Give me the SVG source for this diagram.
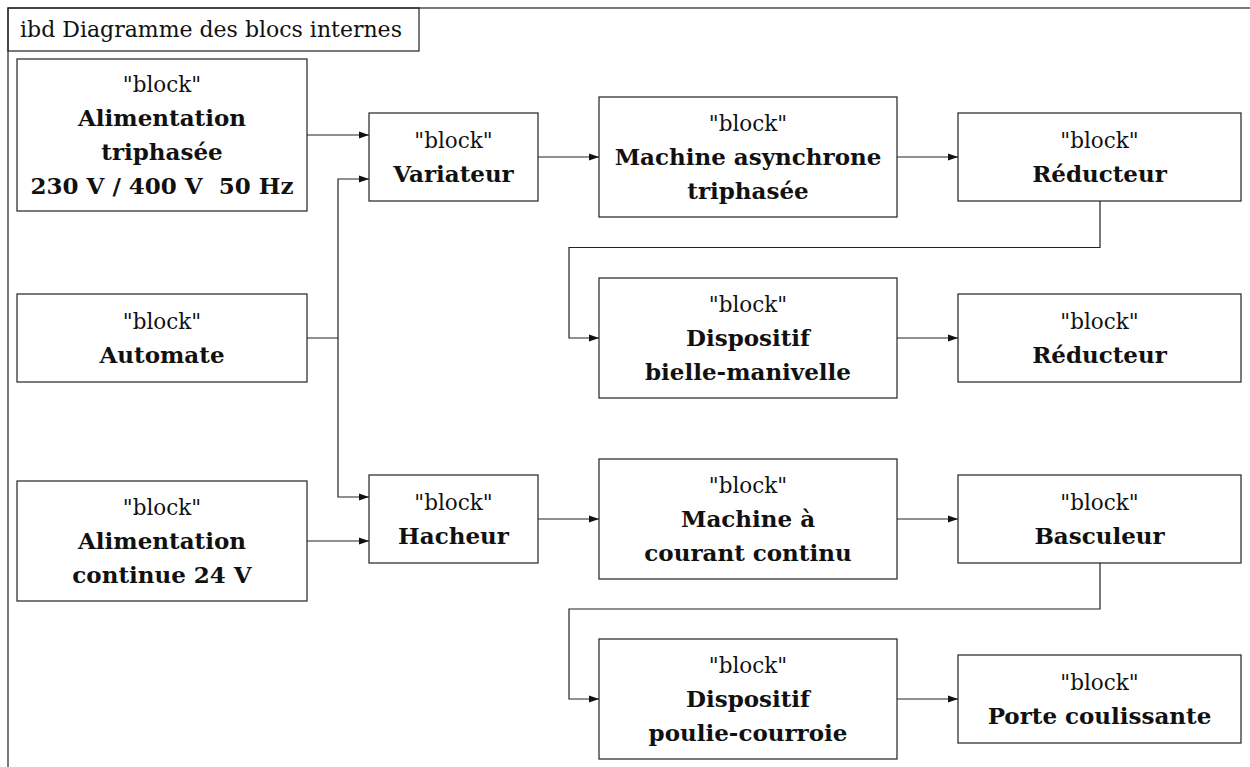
<svg xmlns="http://www.w3.org/2000/svg" width="1250" height="767" viewBox="0 0 1250 767">
<style>
  .frame { fill: none; stroke: #222; stroke-width: 1.2; }
  .box { fill: #fff; stroke: #222; stroke-width: 1.2; }
  .conn { fill: none; stroke: #222; stroke-width: 1.2; }
  .st { font-family: "DejaVu Serif", "Liberation Serif", serif; font-size: 21.5px; fill: #111; text-anchor: middle; }
  .nm { font-family: "DejaVu Serif", "Liberation Serif", serif; font-size: 23px; font-weight: bold; fill: #111; text-anchor: middle; }
  .title { font-family: "DejaVu Serif", "Liberation Serif", serif; font-size: 22px; fill: #111; text-anchor: middle; }
</style>
<defs>
  <marker id="arr" markerUnits="userSpaceOnUse" markerWidth="11" markerHeight="8" refX="10.5" refY="4" orient="auto">
    <path d="M0,0.3 L10.5,4 L0,7.7 Z" fill="#111"/>
  </marker>
</defs>
<rect width="1250" height="767" fill="#fff"/>
<g id="frame">
  <rect class="frame" x="8" y="8" width="1260" height="780"/>
  <rect class="frame" x="8" y="8" width="411" height="43"/>
  <text class="title" x="211" y="37">ibd Diagramme des blocs internes</text>
</g>
<g id="connectors">
  <path class="conn" d="M307,135 H369" marker-end="url(#arr)"/>
  <path class="conn" d="M307,338 H338 V179 H369" marker-end="url(#arr)"/>
  <path class="conn" d="M338,338 V497 H369" marker-end="url(#arr)"/>
  <path class="conn" d="M307,541 H369" marker-end="url(#arr)"/>
  <path class="conn" d="M538,157 H599" marker-end="url(#arr)"/>
  <path class="conn" d="M897,157 H958" marker-end="url(#arr)"/>
  <path class="conn" d="M1100,201 V247.5 H569 V338 H599" marker-end="url(#arr)"/>
  <path class="conn" d="M897,338 H958" marker-end="url(#arr)"/>
  <path class="conn" d="M538,519 H599" marker-end="url(#arr)"/>
  <path class="conn" d="M897,519 H958" marker-end="url(#arr)"/>
  <path class="conn" d="M1100,563 V609 H569 V699 H599" marker-end="url(#arr)"/>
  <path class="conn" d="M897,699 H958" marker-end="url(#arr)"/>
</g>
<g id="alim_tri">
  <rect class="box" x="17" y="59" width="290" height="152"/>
  <text class="st" x="162" y="92">"block"</text>
  <text class="nm" x="162" y="126">Alimentation</text>
  <text class="nm" x="162" y="160">triphasée</text>
  <text class="nm" x="162" y="194">230 V / 400 V&#160; 50 Hz</text>
</g>
<g id="automate">
  <rect class="box" x="17" y="294" width="290" height="88"/>
  <text class="st" x="162" y="329">"block"</text>
  <text class="nm" x="162" y="363">Automate</text>
</g>
<g id="alim_cont">
  <rect class="box" x="17" y="481" width="290" height="120"/>
  <text class="st" x="162" y="515">"block"</text>
  <text class="nm" x="162" y="549">Alimentation</text>
  <text class="nm" x="162" y="583">continue 24 V</text>
</g>
<g id="variateur">
  <rect class="box" x="369" y="113" width="169" height="88"/>
  <text class="st" x="453.5" y="148">"block"</text>
  <text class="nm" x="453.5" y="182">Variateur</text>
</g>
<g id="hacheur">
  <rect class="box" x="369" y="475" width="169" height="88"/>
  <text class="st" x="453.5" y="510">"block"</text>
  <text class="nm" x="453.5" y="544">Hacheur</text>
</g>
<g id="mas">
  <rect class="box" x="599" y="97" width="298" height="120"/>
  <text class="st" x="748" y="131">"block"</text>
  <text class="nm" x="748" y="165">Machine asynchrone</text>
  <text class="nm" x="748" y="199">triphasée</text>
</g>
<g id="bielle">
  <rect class="box" x="599" y="278" width="298" height="120"/>
  <text class="st" x="748" y="312">"block"</text>
  <text class="nm" x="748" y="346">Dispositif</text>
  <text class="nm" x="748" y="380">bielle-manivelle</text>
</g>
<g id="mcc">
  <rect class="box" x="599" y="459" width="298" height="120"/>
  <text class="st" x="748" y="493">"block"</text>
  <text class="nm" x="748" y="527">Machine à</text>
  <text class="nm" x="748" y="561">courant continu</text>
</g>
<g id="poulie">
  <rect class="box" x="599" y="639" width="298" height="120"/>
  <text class="st" x="748" y="673">"block"</text>
  <text class="nm" x="748" y="707">Dispositif</text>
  <text class="nm" x="748" y="741">poulie-courroie</text>
</g>
<g id="reducteur1">
  <rect class="box" x="958" y="113" width="283" height="88"/>
  <text class="st" x="1099.5" y="148">"block"</text>
  <text class="nm" x="1099.5" y="182">Réducteur</text>
</g>
<g id="reducteur2">
  <rect class="box" x="958" y="294" width="283" height="88"/>
  <text class="st" x="1099.5" y="329">"block"</text>
  <text class="nm" x="1099.5" y="363">Réducteur</text>
</g>
<g id="basculeur">
  <rect class="box" x="958" y="475" width="283" height="88"/>
  <text class="st" x="1099.5" y="510">"block"</text>
  <text class="nm" x="1099.5" y="544">Basculeur</text>
</g>
<g id="porte">
  <rect class="box" x="958" y="655" width="283" height="88"/>
  <text class="st" x="1099.5" y="690">"block"</text>
  <text class="nm" x="1099.5" y="724">Porte coulissante</text>
</g>
</svg>
